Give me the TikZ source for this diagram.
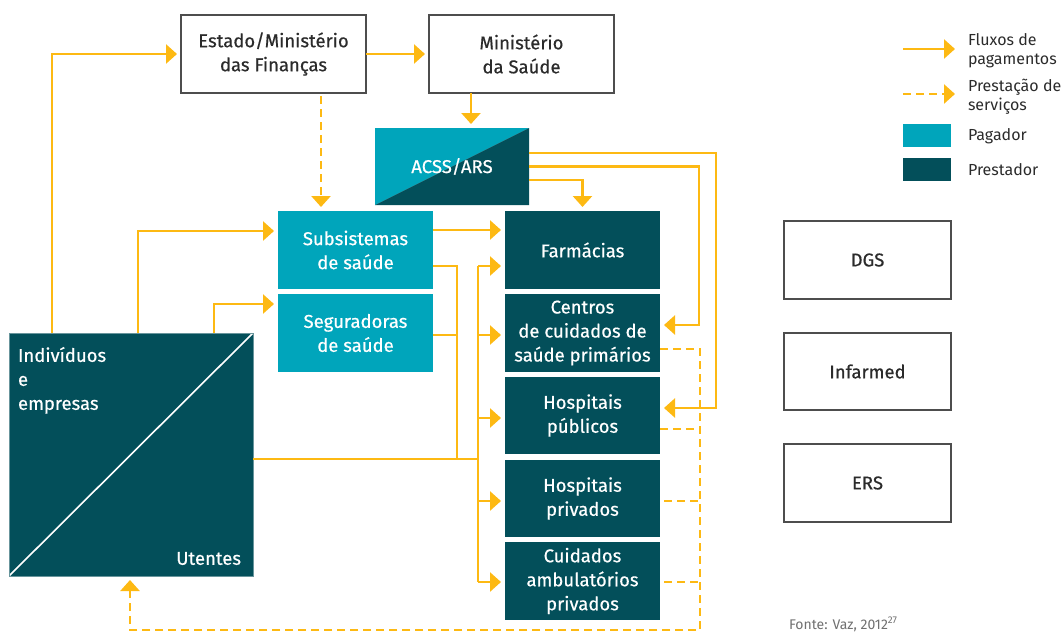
\documentclass[tikz,border=0pt]{standalone}
\usepackage{fontspec}
\setmainfont{Fira Sans}
\newfontfamily\medfont{Fira Sans}[FakeBold=0.5]
\usetikzlibrary{arrows.meta,calc}
\definecolor{ylw}{HTML}{FDB913}
\definecolor{pay}{HTML}{00A5BB}
\definecolor{prov}{HTML}{034F5A}
\definecolor{bord}{HTML}{4D4D4D}
\definecolor{txt}{HTML}{2B2B2B}
\definecolor{fonte}{HTML}{707070}
\begin{document}
\begin{tikzpicture}[x=1pt,y=-1pt,
  every node/.style={inner sep=0pt,outer sep=0pt},
  mainfont/.style={font=\medfont\fontsize{18.5}{24}\selectfont},
  wbox/.style={mainfont,draw=bord,line width=1.2pt,fill=white,align=center,text=txt},
  paybox/.style={mainfont,fill=pay,align=center,text=white,minimum width=155pt,minimum height=78pt},
  provbox/.style={mainfont,fill=prov,align=center,text=white,minimum width=155pt,minimum height=78pt},
  fline/.style={draw=ylw,line width=2.6pt,line join=miter},
  flow/.style={fline,-{Triangle[length=11pt,width=19pt]},shorten >=4pt},
  dline/.style={fline,dash pattern=on 8pt off 5pt},
  dflow/.style={dline,-{Triangle[length=11pt,width=19pt]},shorten >=4pt},
  legtext/.style={font=\fontsize{16}{19}\selectfont,text=txt,align=left,anchor=west}
]
\useasboundingbox (0,0) rectangle (1063,633);

% top boxes
\node[wbox,minimum width=185pt,minimum height=78pt] (estado) at (273.5,54) {Estado/Ministério\\das Finanças};
\node[wbox,minimum width=185pt,minimum height=78pt] (minsaude) at (521.5,54) {Ministério\\da Saúde};

% ACSS
\node[mainfont,text=white,minimum width=154pt,minimum height=77pt,
  path picture={
    \fill[pay] (path picture bounding box.north west) -- (path picture bounding box.north east) -- (path picture bounding box.south west) -- cycle;
    \fill[prov] (path picture bounding box.north east) -- (path picture bounding box.south east) -- (path picture bounding box.south west) -- cycle;}]
  (acss) at (452,166.5) {ACSS/ARS};

% payers
\node[paybox] (subs) at (355.5,250) {Subsistemas\\de saúde};
\node[paybox] (segur) at (355.5,333) {Seguradoras\\de saúde};

% providers
\node[provbox] (farm) at (582.5,250) {Farmácias};
\node[provbox] (centros) at (582.5,333) {Centros\\de cuidados de\\saúde primários};
\node[provbox,minimum height=77pt] (hpub) at (582.5,415.5) {Hospitais\\públicos};
\node[provbox,minimum height=77pt] (hpriv) at (582.5,498.5) {Hospitais\\privados};
\node[provbox] (cuid) at (582.5,581) {Cuidados\\ambulatórios\\privados};

% individuals
\node[fill=prov,draw=prov!60!white,line width=0.6pt,minimum width=244pt,minimum height=243pt,
  path picture={\draw[white,line width=1.6pt] (path picture bounding box.south west) -- (path picture bounding box.north east);}]
  (indiv) at (131,454.5) {};
\node[mainfont,text=white,align=left,anchor=north west] (indivtxt) at ($(indiv.north west)+(9,14)$) {Indivíduos\\e\\empresas};
\node[mainfont,text=white,anchor=south east] (utentes) at ($(indiv.south east)+(-12,-11)$) {Utentes};

% regulators
\node[wbox,minimum width=167pt,minimum height=78pt] (dgs) at (867.5,260) {DGS};
\node[wbox,minimum width=167pt,minimum height=77pt] (infarmed) at (867.5,371.5) {Infarmed};
\node[wbox,minimum width=167pt,minimum height=78pt] (ers) at (867.5,483) {ERS};

% legend
\coordinate (la1) at (903,49);
\coordinate (la2) at (955,49);
\coordinate (lb1) at (903,94);
\coordinate (lb2) at (955,94);
\draw[fline,-{Triangle[length=11pt,width=19pt]}] (la1) -- (la2);
\draw[dline,-{Triangle[length=11pt,width=19pt]}] (lb1) -- (lb2);
\node[legtext] (lt1) at (968,51) {Fluxos de\\pagamentos};
\node[legtext] (lt2) at (968,97) {Prestação de\\serviços};
\node[fill=pay,minimum width=48pt,minimum height=23pt] (lpay) at (927,135.5) {};
\node[fill=prov,minimum width=48pt,minimum height=23pt] (lprov) at (927,169.5) {};
\node[legtext] (lt3) at (968,136) {Pagador};
\node[legtext] (lt4) at (968,170) {Prestador};

% source
\node[font=\fontsize{14}{16}\selectfont,text=fonte,anchor=base west] (src) at (789,629) {Fonte: Vaz, 2012\textsuperscript{27}};

% connectors
\coordinate (j1) at (457,459);
\coordinate (j2) at (478,459);
\coordinate (bustop) at (478,266);
\coordinate (busbot) at (478,582);
\coordinate (dbr) at (700,630);

\draw[flow] ($(indiv.north west)+(43,0)$) |- (estado.west);
\draw[flow] (estado.east) -- (minsaude.west);
\draw[dflow] ($(estado.south)+(47.5,3)$) -- ($(subs.north)+(-34.5,0)$);
\draw[flow] ($(minsaude.south)+(-50.5,0)$) -- ($(acss.north)+(19,0)$);
\draw[flow] ($(acss.east)+(0,-13.5)$) -- ++(187,0) |- ($(hpub.east)+(0,-7.5)$);
\draw[flow] (acss.east) -- ++(170,0) |- ($(centros.east)+(0,-8)$);
\draw[flow] ($(acss.east)+(0,13.5)$) -| (farm.north);
\draw[flow] ($(indiv.north west)+(129,0)$) |- ($(subs.west)+(0,-19)$);
\draw[flow] ($(indiv.north west)+(205,0)$) |- ($(segur.west)+(0,-29)$);
\draw[flow] ($(subs.east)+(0,-20)$) -- ($(farm.west)+(0,-20)$);
\draw[fline] ($(subs.east)+(0,16)$) -| (j1);
\draw[fline] ($(segur.east)+(0,2)$) -- ($(segur.east -| j1)+(0,2)$);
\draw[fline] ($(indiv.east)+(0,4.5)$) -- (j2);
\draw[fline] (bustop) -- (busbot);
\draw[flow] (bustop) -- ($(farm.west)+(0,16)$);
\draw[flow] ($(centros.west -| bustop)+(0,2)$) -- ($(centros.west)+(0,2)$);
\draw[flow] ($(hpub.west -| bustop)+(0,2.5)$) -- ($(hpub.west)+(0,2.5)$);
\draw[flow] ($(hpriv.west -| bustop)+(0,2.5)$) -- ($(hpriv.west)+(0,2.5)$);
\draw[flow] ($(cuid.west -| bustop)+(0,1)$) -- ($(cuid.west)+(0,1)$);

\draw[dflow] ($(centros.east)+(0,16)$) -| (dbr) -| ($(indiv.south west)+(121,0)$);
\draw[dline] ($(hpub.east)+(0,13.5)$) -- ++(40,0);
\draw[dline] ($(hpriv.east)+(4,2.5)$) -- ++(36,0);
\draw[dline] ($(cuid.east)+(4,1)$) -- ++(36,0);
\end{tikzpicture}
\end{document}
